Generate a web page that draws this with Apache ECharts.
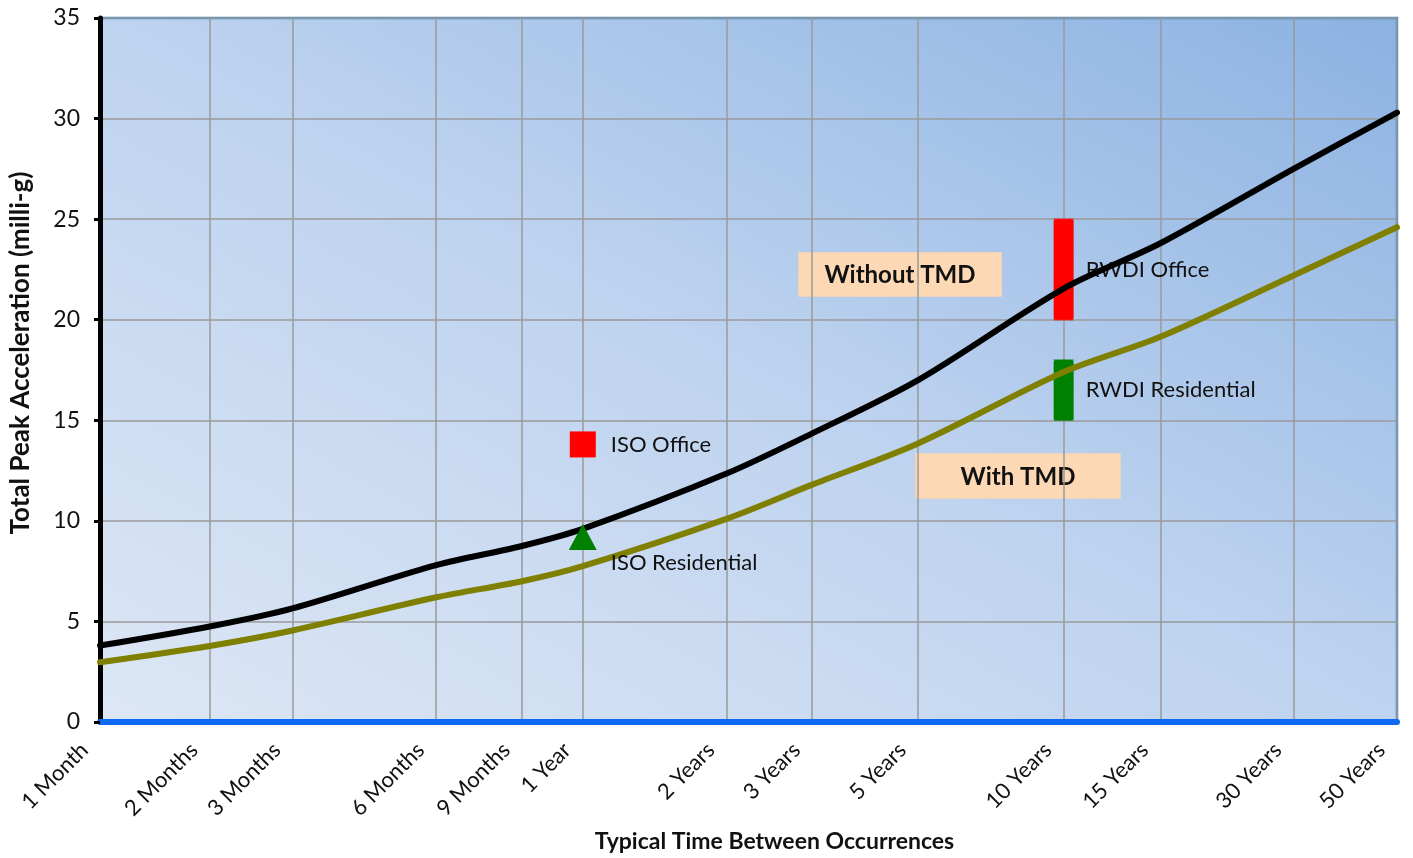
<!DOCTYPE html>
<html>
<head>
<meta charset="utf-8">
<title>Total Peak Acceleration vs Return Period</title>
<script src="https://cdn.jsdelivr.net/npm/echarts@6/dist/echarts.min.js"></script>
<style>
  html, body { margin: 0; padding: 0; background: #ffffff; }
  #chart { width: 1413px; height: 858px; }
</style>
</head>
<body>
<div id="chart"></div>
<script>
// Return periods shown along the time axis
const periods = ['1 Month', '2 Months', '3 Months', '6 Months', '9 Months', '1 Year',
  '2 Years', '3 Years', '5 Years', '10 Years', '15 Years', '30 Years', '50 Years'];
// Position of each period on the log-time axis (log10 of months)
const periodPos = [0.071, 0.300, 0.473, 0.773, 0.952, 1.079,
  1.379, 1.558, 1.779, 2.083, 2.285, 2.563, 2.779];

// Total peak acceleration (milli-g)
const withoutTMD = [3.8, 4.75, 5.65, 7.8, 8.75, 9.6, 12.35, 14.35, 17.0, 21.55, 23.8, 27.5, 30.3];
const withTMD = [2.97, 3.78, 4.55, 6.2, 7.0, 7.75, 10.1, 11.8, 13.85, 17.4, 19.15, 22.2, 24.6];

// Comfort criteria
const isoOffice = { period: '1 Year', value: 13.8 };
const isoResidential = { period: '1 Year', value: 9.2 };
const rwdiOffice = { period: '10 Years', low: 20, high: 25 };
const rwdiResidential = { period: '10 Years', low: 15, high: 18 };

const yTicks = [0, 5, 10, 15, 20, 25, 30, 35];

const posOf = p => periodPos[periods.indexOf(p)];
const FONT = 'Lato, "Open Sans", sans-serif';

// Plot area in pixels
const GRID = { left: 97, right: 16, top: 18, bottom: 135 };
const W = 1413, H = 858;

const chart = echarts.init(document.getElementById('chart'), null, { renderer: 'canvas' });

// Diagonal wash: light in the lower-left corner, deep blue in the upper-right,
// equal tones along the upper-left / lower-right diagonal.
const x0 = GRID.left, y0 = H - GRID.bottom, x1 = W - GRID.right, y1 = GRID.top;
const cx = (x0 + x1) / 2, cy = (y0 + y1) / 2;
const pw = x1 - x0, ph = y0 - y1;
const len = Math.hypot(pw, ph);
const dx = ph / len, dy = -pw / len;
const half = Math.abs((x0 - cx) * dx + (y0 - cy) * dy);
const bgGradient = new echarts.graphic.LinearGradient(
  cx - half * dx, cy - half * dy, cx + half * dx, cy + half * dy,
  [
    { offset: 0, color: '#dde7f5' },
    { offset: 0.5, color: '#bed3ef' },
    { offset: 1, color: '#8cb2e2' }
  ], true);

const rangeItem = color => function (params, api) {
  const x = api.value(0);
  const top = api.coord([x, api.value(2)]);
  const bottom = api.coord([x, api.value(1)]);
  const w = 20;
  return {
    type: 'group',
    children: [
      {
        type: 'rect',
        shape: { x: top[0] - w / 2, y: top[1], width: w, height: bottom[1] - top[1], r: 2 },
        style: { fill: color },
        textContent: {
          style: { text: api.value(3) === 0 ? 'RWDI Office' : 'RWDI Residential',
            fill: '#111', font: '22px ' + FONT }
        },
        textConfig: { position: 'right', distance: 12 }
      },
      {
        type: 'line',
        shape: { x1: top[0] - w / 2, y1: top[1], x2: top[0] + w / 2, y2: top[1] },
        style: { stroke: color, lineWidth: 1.5, opacity: 0.6 }
      },
      {
        type: 'line',
        shape: { x1: top[0] - w / 2, y1: bottom[1], x2: top[0] + w / 2, y2: bottom[1] },
        style: { stroke: color, lineWidth: 1.5, opacity: 0.6 }
      }
    ]
  };
};

const option = {
  animation: false,
  textStyle: { fontFamily: FONT },
  grid: {
    left: GRID.left, right: GRID.right, top: GRID.top, bottom: GRID.bottom,
    show: true,
    borderColor: '#3f89c8',
    borderWidth: 2.5,
    backgroundColor: bgGradient
  },
  xAxis: {
    type: 'value',
    min: periodPos[0],
    max: periodPos[periodPos.length - 1],
    name: 'Typical Time Between Occurrences',
    nameLocation: 'middle',
    nameGap: 108,
    nameTextStyle: { fontSize: 23, fontWeight: 'bold', color: '#111', fontFamily: FONT,
      padding: [0, 0, 0, 52] },
    axisLine: { show: true, onZero: false, lineStyle: { color: '#0f6af2', width: 6 } },
    axisTick: { show: false, customValues: periodPos },
    axisLabel: {
      customValues: periodPos,
      rotate: 45,
      margin: 9,
      padding: [0, 22, 0, 0],
      fontSize: 22,
      color: '#111',
      fontFamily: FONT,
      formatter: v => {
        let best = 0;
        periodPos.forEach((p, i) => { if (Math.abs(p - v) < Math.abs(periodPos[best] - v)) best = i; });
        return periods[best];
      }
    },
    splitLine: { show: true, lineStyle: { color: '#9a9a9a', width: 1.5 } }
  },
  yAxis: {
    type: 'value',
    min: yTicks[0],
    max: yTicks[yTicks.length - 1],
    interval: 5,
    name: 'Total Peak Acceleration (milli-g)',
    nameLocation: 'middle',
    nameGap: 66,
    nameTextStyle: { fontSize: 26, fontWeight: 'bold', color: '#111', fontFamily: FONT,
      padding: [0, 0, 0, 34] },
    axisLine: { show: true, lineStyle: { color: '#000', width: 5 } },
    axisTick: { show: true, length: 6, lineStyle: { color: '#000', width: 3 } },
    axisLabel: { fontSize: 23, color: '#111', margin: 20, fontFamily: FONT },
    splitLine: { show: true, lineStyle: { color: '#9a9a9a', width: 1.5 } }
  },
  series: [
    {
      name: 'Without TMD',
      type: 'line',
      data: periodPos.map((p, i) => [p, withoutTMD[i]]),
      smooth: 0.3,
      showSymbol: false,
      lineStyle: { color: '#000000', width: 6, cap: 'round', join: 'round' },
      z: 3
    },
    {
      name: 'With TMD',
      type: 'line',
      data: periodPos.map((p, i) => [p, withTMD[i]]),
      smooth: 0.3,
      showSymbol: false,
      lineStyle: { color: '#7f7f00', width: 6, cap: 'round', join: 'round' },
      z: 3
    },
    {
      name: 'ISO Office',
      type: 'scatter',
      symbol: 'rect',
      symbolSize: 26,
      itemStyle: { color: '#ff0000', opacity: 1 },
      data: [[posOf(isoOffice.period), isoOffice.value]],
      label: { show: true, position: 'right', distance: 15, formatter: 'ISO Office',
        fontSize: 22, color: '#111', fontFamily: FONT },
      z: 4
    },
    {
      name: 'ISO Residential',
      type: 'scatter',
      symbol: 'triangle',
      symbolSize: [28, 26],
      itemStyle: { color: '#008000', opacity: 1 },
      data: [[posOf(isoResidential.period), isoResidential.value]],
      label: { show: true, position: 'right', distance: 14, offset: [0, 26], formatter: 'ISO Residential',
        fontSize: 22, color: '#111', fontFamily: FONT },
      z: 4
    },
    {
      name: 'RWDI Office',
      type: 'custom',
      renderItem: rangeItem('#ff0000'),
      data: [[posOf(rwdiOffice.period), rwdiOffice.low, rwdiOffice.high, 0]],
      encode: { x: 0, y: [1, 2] },
      z: 2
    },
    {
      name: 'RWDI Residential',
      type: 'custom',
      renderItem: rangeItem('#008000'),
      data: [[posOf(rwdiResidential.period), rwdiResidential.low, rwdiResidential.high, 1]],
      encode: { x: 0, y: [1, 2] },
      z: 2
    }
  ],
  graphic: [
    {
      type: 'group', left: 798, top: 252, z: 10,
      children: [
        { type: 'rect', shape: { x: 0, y: 0, width: 203, height: 44 },
          style: { fill: '#fcd8b5', stroke: '#ecd3bc', lineWidth: 1 } },
        { type: 'text', x: 101.5, y: 23,
          style: { text: 'Without TMD', fill: '#111', font: 'bold 24px ' + FONT,
            align: 'center', verticalAlign: 'middle' } }
      ]
    },
    {
      type: 'group', left: 915, top: 453, z: 10,
      children: [
        { type: 'rect', shape: { x: 0, y: 0, width: 205, height: 45 },
          style: { fill: '#fcd8b5', stroke: '#ecd3bc', lineWidth: 1 } },
        { type: 'text', x: 102.5, y: 23.5,
          style: { text: 'With TMD', fill: '#111', font: 'bold 24px ' + FONT,
            align: 'center', verticalAlign: 'middle' } }
      ]
    }
  ]
};

chart.setOption(option);
</script>
</body>
</html>
